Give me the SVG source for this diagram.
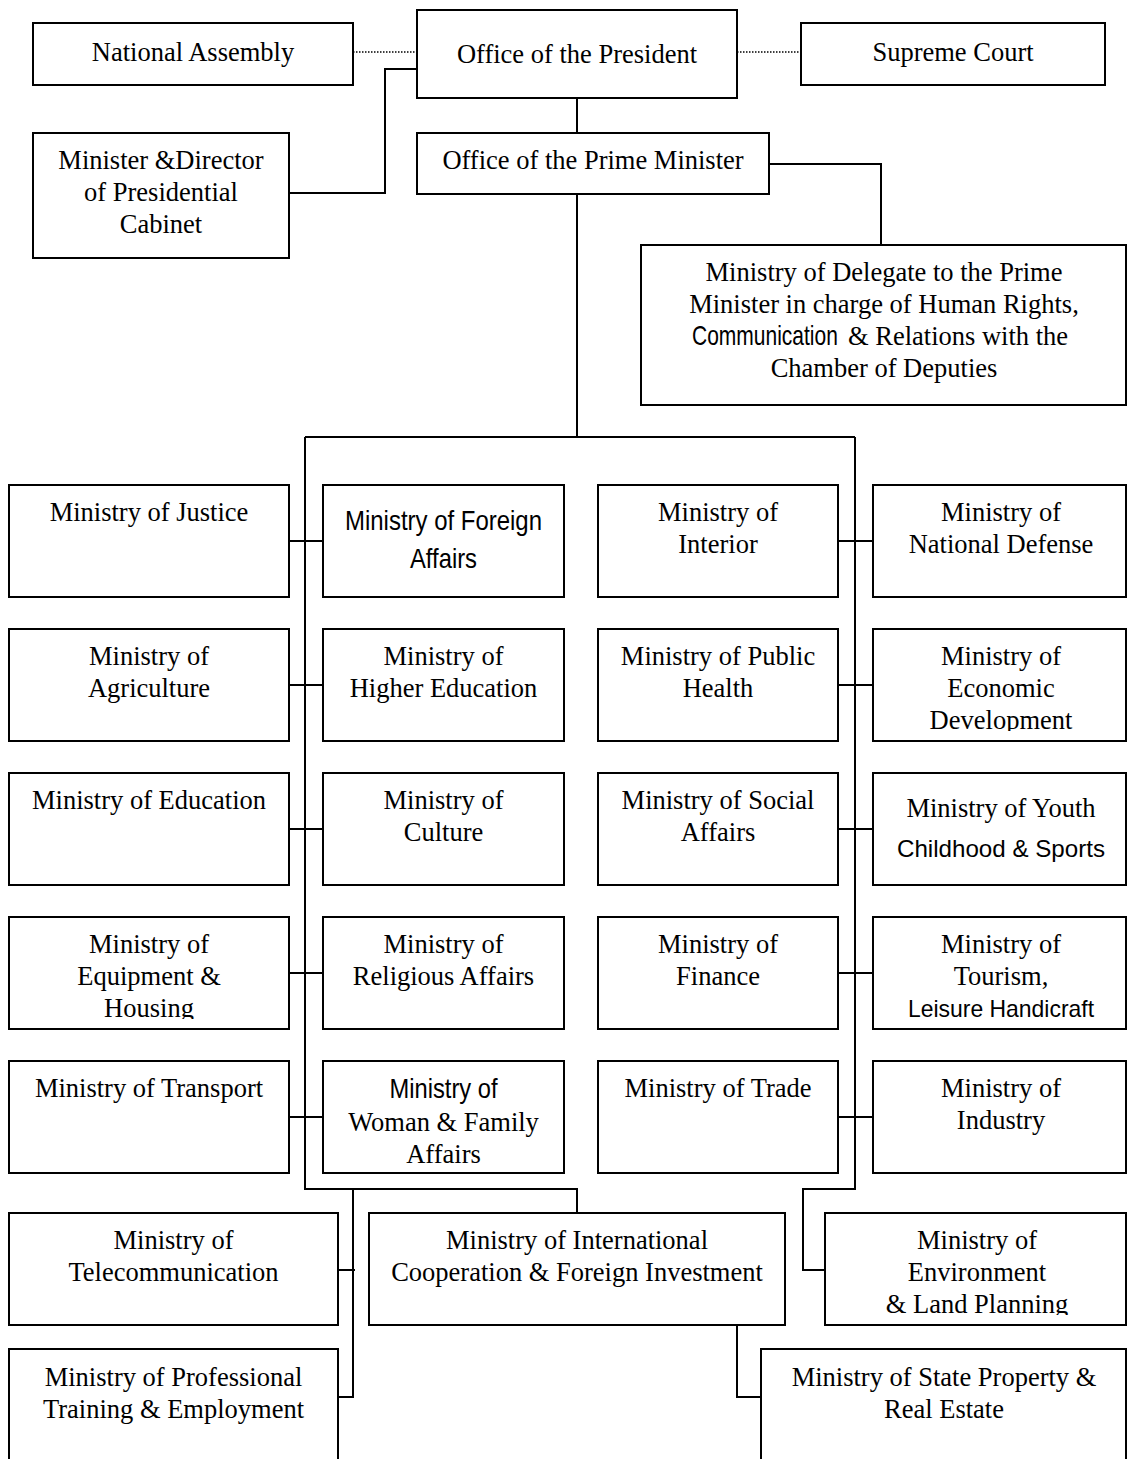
<svg xmlns="http://www.w3.org/2000/svg" width="1127" height="1459" viewBox="0 0 1127 1459">
<style>
.box{fill:#fff;stroke:#000;stroke-width:2}
.c{fill:none;stroke:#000;stroke-width:2}
.d{fill:none;stroke:#000;stroke-width:1.5;stroke-dasharray:1.5 1.5}
text{font-family:"Liberation Serif","Times New Roman",serif;font-size:26.5px;fill:#000;text-anchor:middle}
.n{font-family:"Liberation Sans Narrow","Liberation Sans",Arial,sans-serif;font-size:28px}
.a{font-family:"Liberation Sans",Arial,sans-serif;font-size:24px}
.st{text-anchor:start}
</style>
<defs>
<clipPath id="clEco"><rect x="873" y="629" width="253" height="102"/></clipPath>
<clipPath id="clEqu"><rect x="9" y="917" width="280" height="102"/></clipPath>
<clipPath id="clTou"><rect x="873" y="917" width="253" height="105"/></clipPath>
<clipPath id="clEnv"><rect x="825" y="1213" width="301" height="102"/></clipPath>
</defs>
<rect width="1127" height="1459" fill="#fff"/>
<g id="connectors">
<line class="d" x1="353" y1="52" x2="417" y2="52"/>
<line class="d" x1="737" y1="52" x2="801" y2="52"/>
<polyline class="c" points="417,69 385,69 385,193 289,193"/>
<line class="c" x1="577" y1="98" x2="577" y2="133"/>
<polyline class="c" points="769,164 881,164 881,245"/>
<line class="c" x1="577" y1="194" x2="577" y2="437"/>
<line class="c" x1="305" y1="437" x2="855" y2="437"/>
<polyline class="c" points="305,437 305,1189 577,1189 577,1213"/>
<polyline class="c" points="855,437 855,1189 803,1189 803,1270 825,1270"/>
<line class="c" x1="289" y1="541" x2="323" y2="541"/>
<line class="c" x1="289" y1="685" x2="323" y2="685"/>
<line class="c" x1="289" y1="829" x2="323" y2="829"/>
<line class="c" x1="289" y1="973" x2="323" y2="973"/>
<line class="c" x1="289" y1="1117" x2="323" y2="1117"/>
<line class="c" x1="838" y1="541" x2="873" y2="541"/>
<line class="c" x1="838" y1="685" x2="873" y2="685"/>
<line class="c" x1="838" y1="829" x2="873" y2="829"/>
<line class="c" x1="838" y1="973" x2="873" y2="973"/>
<line class="c" x1="838" y1="1117" x2="873" y2="1117"/>
<polyline class="c" points="353,1189 353,1397 338,1397"/>
<line class="c" x1="338" y1="1270" x2="355" y2="1270"/>
<polyline class="c" points="737,1325 737,1397 761,1397"/>
</g>
<g id="national-assembly"><rect class="box" x="33" y="23" width="320" height="62"/><text x="193" y="61">National Assembly</text></g>
<g id="office-president"><rect class="box" x="417" y="10" width="320" height="88"/><text x="577" y="63">Office of the President</text></g>
<g id="supreme-court"><rect class="box" x="801" y="23" width="304" height="62"/><text x="953" y="61">Supreme Court</text></g>
<g id="minister-director"><rect class="box" x="33" y="133" width="256" height="125"/><text x="161" y="169">Minister &amp;Director</text><text x="161" y="201">of Presidential</text><text x="161" y="233">Cabinet</text></g>
<g id="office-pm"><rect class="box" x="417" y="133" width="352" height="61"/><text x="593" y="169">Office of the Prime Minister</text></g>
<g id="delegate"><rect class="box" x="641" y="245" width="485" height="160"/><text x="884" y="281">Ministry of Delegate to the Prime</text><text x="884" y="313">Minister in charge of Human Rights,</text><text class="n st" x="922.7" y="345" transform="scale(0.75 1)">Communication</text><text class="st" x="848" y="345">&amp; Relations with the</text><text x="884" y="377">Chamber of Deputies</text></g>
<g id="justice"><rect class="box" x="9" y="485" width="280" height="112"/><text x="149" y="521">Ministry of Justice</text></g>
<g id="foreign-affairs"><rect class="box" x="323" y="485" width="241" height="112"/><text class="n" x="443.5" y="530" textLength="197" lengthAdjust="spacingAndGlyphs">Ministry of Foreign</text><text class="n" x="443.5" y="568" textLength="67" lengthAdjust="spacingAndGlyphs">Affairs</text></g>
<g id="interior"><rect class="box" x="598" y="485" width="240" height="112"/><text x="718" y="521">Ministry of</text><text x="718" y="553">Interior</text></g>
<g id="national-defense"><rect class="box" x="873" y="485" width="253" height="112"/><text x="1001" y="521">Ministry of</text><text x="1001" y="553">National Defense</text></g>
<g id="agriculture"><rect class="box" x="9" y="629" width="280" height="112"/><text x="149" y="665">Ministry of</text><text x="149" y="697">Agriculture</text></g>
<g id="higher-education"><rect class="box" x="323" y="629" width="241" height="112"/><text x="443.5" y="665">Ministry of</text><text x="443.5" y="697">Higher Education</text></g>
<g id="public-health"><rect class="box" x="598" y="629" width="240" height="112"/><text x="718" y="665">Ministry of Public</text><text x="718" y="697">Health</text></g>
<g id="economic-development"><rect class="box" x="873" y="629" width="253" height="112"/><text x="1001" y="665">Ministry of</text><text x="1001" y="697">Economic</text><text x="1001" y="729" clip-path="url(#clEco)">Development</text></g>
<g id="education"><rect class="box" x="9" y="773" width="280" height="112"/><text x="149" y="809">Ministry of Education</text></g>
<g id="culture"><rect class="box" x="323" y="773" width="241" height="112"/><text x="443.5" y="809">Ministry of</text><text x="443.5" y="841">Culture</text></g>
<g id="social-affairs"><rect class="box" x="598" y="773" width="240" height="112"/><text x="718" y="809">Ministry of Social</text><text x="718" y="841">Affairs</text></g>
<g id="youth"><rect class="box" x="873" y="773" width="253" height="112"/><text x="1001" y="817">Ministry of Youth</text><text class="a" x="1001" y="857" textLength="208" lengthAdjust="spacingAndGlyphs">Childhood &amp; Sports</text></g>
<g id="equipment-housing"><rect class="box" x="9" y="917" width="280" height="112"/><text x="149" y="953">Ministry of</text><text x="149" y="985">Equipment &amp;</text><text x="149" y="1017" clip-path="url(#clEqu)">Housing</text></g>
<g id="religious-affairs"><rect class="box" x="323" y="917" width="241" height="112"/><text x="443.5" y="953">Ministry of</text><text x="443.5" y="985">Religious Affairs</text></g>
<g id="finance"><rect class="box" x="598" y="917" width="240" height="112"/><text x="718" y="953">Ministry of</text><text x="718" y="985">Finance</text></g>
<g id="tourism"><rect class="box" x="873" y="917" width="253" height="112"/><text x="1001" y="953">Ministry of</text><text x="1001" y="985">Tourism,</text><text class="a" x="1001" y="1017" textLength="186" lengthAdjust="spacingAndGlyphs" clip-path="url(#clTou)">Leisure Handicraft</text></g>
<g id="transport"><rect class="box" x="9" y="1061" width="280" height="112"/><text x="149" y="1097">Ministry of Transport</text></g>
<g id="woman-family"><rect class="box" x="323" y="1061" width="241" height="112"/><text class="n" x="443.5" y="1098" textLength="108" lengthAdjust="spacingAndGlyphs">Ministry of</text><text x="443.5" y="1131">Woman &amp; Family</text><text x="443.5" y="1163">Affairs</text></g>
<g id="trade"><rect class="box" x="598" y="1061" width="240" height="112"/><text x="718" y="1097">Ministry of Trade</text></g>
<g id="industry"><rect class="box" x="873" y="1061" width="253" height="112"/><text x="1001" y="1097">Ministry of</text><text x="1001" y="1129">Industry</text></g>
<g id="telecommunication"><rect class="box" x="9" y="1213" width="329" height="112"/><text x="173.5" y="1249">Ministry of</text><text x="173.5" y="1281">Telecommunication</text></g>
<g id="international-cooperation"><rect class="box" x="369" y="1213" width="416" height="112"/><text x="577" y="1249">Ministry of International</text><text x="577" y="1281">Cooperation &amp; Foreign Investment</text></g>
<g id="environment"><rect class="box" x="825" y="1213" width="301" height="112"/><text x="977" y="1249">Ministry of</text><text x="977" y="1281">Environment</text><text x="977" y="1313" clip-path="url(#clEnv)">&amp; Land Planning</text></g>
<g id="professional-training"><rect class="box" x="9" y="1349" width="329" height="130"/><text x="173.5" y="1386">Ministry of Professional</text><text x="173.5" y="1418">Training &amp; Employment</text></g>
<g id="state-property"><rect class="box" x="761" y="1349" width="365" height="130"/><text x="944" y="1386">Ministry of State Property &amp;</text><text x="944" y="1418">Real Estate</text></g>
</svg>
